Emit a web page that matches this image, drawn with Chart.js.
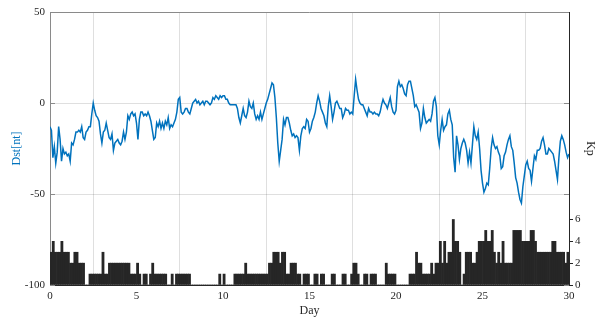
<!DOCTYPE html>
<html>
<head>
<meta charset="utf-8">
<script src="https://cdn.jsdelivr.net/npm/chart.js@4.4.0/dist/chart.umd.min.js"></script>
<style>
  html, body { margin: 0; padding: 0; background: #ffffff; }
  #wrap { width: 603px; height: 320px; }
</style>
</head>
<body>
<div id="wrap"><canvas id="chart" width="603" height="320"></canvas></div>
<script>
// Dst index [nT], one sample every 2 hours over 30 days
const DST_STEP_HOURS = 2;
const dst = [
  -13, -15, -30, -24, -33, -27, -13, -20, -32, -25,
  -28, -27, -29, -28, -32, -22, -23, -20, -16, -16,
  -15, -16, -13, -19, -20, -16, -15, -13, -13, -6,
  0, -4, -7, -8, -10, -17, -22, -16, -15, -11,
  -15, -19, -20, -17, -26, -22, -21, -20, -22, -23,
  -21, -16, -20, -16, -7, -9, -6, -5, -7, -6,
  -11, -20, -9, -5, -5, -7, -6, -7, -5, -7,
  -10, -15, -20, -19, -11, -13, -10, -14, -11, -14,
  -10, -12, -8, -14, -12, -13, -11, -9, -5, 2,
  3, -5, -6, -5, -3, -3, -5, -6, -3, 0,
  1, 2, 0, 1, -1, 0, 1, -1, 1, 1,
  0, -1, 0, 3, 2, 4, 3, 2, 4, 3,
  4, 4, 2, 2, 0, -1, -1, -1, -1, -1,
  -3, -8, -11, -7, -3, -7, -8, -5, 1, -2,
  -3, 0, -6, -9, -7, -9, -5, -9, -6, -3,
  0, 2, 5, 8, 11, 10, 3, -8, -22, -32,
  -26, -20, -9, -12, -8, -8, -11, -15, -18, -17,
  -19, -18, -19, -26, -18, -14, -13, -14, -9, -10,
  -16, -14, -10, -8, -5, 0, 4, 1, -3, -5,
  -7, -11, -13, -2, 4, -2, -9, -5, 0, 1,
  -1, -3, -3, -8, -6, -3, -4, -4, -6, -5,
  -6, 4, 13, 7, 2, 0, -1, -1, -3, -5,
  -7, -3, -5, -5, -6, -5, -6, -6, -7, -5,
  -1, 2, 0, -1, -3, 0, 3, -2, -5, -6,
  -4, 9, 12, 9, 10, 8, 5, 4, 10, 12,
  12, 8, 4, -2, -1, -3, -5, -14, -11, -3,
  -8, -11, -10, -9, -10, -6, 1, 3, -2, -18,
  -23, -15, -9, -15, -13, -12, -6, -4, -9, -12,
  -30, -38, -18, -23, -31, -25, -22, -20, -22, -26,
  -33, -27, -33, -23, -13, -18, -20, -16, -25, -37,
  -44, -49, -47, -44, -45, -36, -25, -19, -23, -25,
  -24, -27, -29, -36, -35, -29, -27, -23, -20, -18,
  -24, -26, -33, -41, -44, -49, -53, -55, -46, -40,
  -34, -32, -36, -37, -43, -36, -29, -31, -26, -26,
  -25, -21, -19, -23, -28, -28, -25, -26, -27, -28,
  -32, -37, -42, -30, -21, -18, -20, -23, -27, -30,
  -28
];

// Kp index, one value per 3-hour interval (8 per day)
const KP_STEP_HOURS = 3;
const kp = [
  3, 4, 3, 3, 3, 4, 3, 3, 3, 2, 2, 3, 3, 2, 2, 2,
  0, 0, 1, 1, 1, 1, 1, 1, 3, 1, 1, 2, 2, 2, 2, 2,
  2, 2, 2, 2, 2, 1, 1, 1, 2, 1, 0, 1, 1, 0, 1, 2,
  1, 1, 1, 1, 1, 1, 0, 0, 1, 0, 1, 1, 1, 1, 1, 1,
  1, 0, 0, 0, 0, 0, 0, 0, 0, 0, 0, 0, 0, 0, 1, 0,
  1, 0, 0, 0, 0, 1, 1, 1, 1, 1, 2, 1, 1, 1, 1, 1,
  1, 1, 1, 1, 1, 2, 2, 3, 3, 3, 2, 3, 3, 1, 1, 2,
  2, 2, 1, 1, 0, 1, 1, 1, 0, 0, 1, 1, 0, 1, 1, 0,
  0, 0, 1, 1, 0, 0, 0, 1, 1, 0, 0, 1, 2, 2, 1, 0,
  0, 1, 1, 0, 1, 1, 1, 0, 0, 0, 0, 2, 1, 1, 1, 1,
  0, 0, 0, 0, 0, 0, 1, 1, 1, 3, 2, 2, 1, 1, 1, 1,
  2, 1, 2, 2, 4, 2, 4, 2, 3, 3, 6, 4, 4, 3, 0, 1,
  3, 3, 3, 2, 2, 3, 4, 4, 4, 5, 4, 4, 5, 3, 2, 3,
  2, 4, 2, 2, 2, 2, 5, 5, 5, 5, 4, 4, 4, 4, 5, 5,
  4, 3, 3, 3, 3, 3, 3, 3, 4, 4, 3, 3, 3, 3, 2, 3
];

const dayTicks = [0, 5, 10, 15, 20, 25, 30];
const dstTicks = [-100, -50, 0, 50];
const kpTicks = [0, 2, 4, 6];

const dstPoints = dst.map((v, i) => ({ x: i * DST_STEP_HOURS / 24, y: v }));
const kpPoints = kp.map((v, i) => ({ x: (i + 0.5) * KP_STEP_HOURS / 24, y: v }));

const serif = 'Liberation Serif, "Times New Roman", serif';
const gridColor = 'rgba(38,38,38,0.15)';
const leftAxisColor = '#8a8a8a';
const darkColor = '#262626';

// box edge along the top and short inward tick marks for the Dst ruler
const frame = {
  id: 'frame',
  afterDatasetsDraw(chart) {
    const { ctx, chartArea: a, scales } = chart;
    ctx.save();
    ctx.lineWidth = 1;
    ctx.strokeStyle = leftAxisColor;
    ctx.beginPath();
    ctx.moveTo(a.left, Math.round(a.top) + 0.5);
    ctx.lineTo(a.right, Math.round(a.top) + 0.5);
    dstTicks.forEach(v => {
      const y = Math.round(scales.y.getPixelForValue(v)) + 0.5;
      ctx.moveTo(a.left, y); ctx.lineTo(a.left + 5, y);
      ctx.moveTo(a.right - 5, y); ctx.lineTo(a.right, y);
    });
    ctx.stroke();
    ctx.restore();
  }
};

new Chart(document.getElementById('chart'), {
  type: 'line',
  data: {
    datasets: [
      {
        label: 'Dst',
        data: dstPoints,
        yAxisID: 'y',
        borderColor: '#0072BD',
        borderWidth: 1.5,
        pointRadius: 0,
        tension: 0,
        fill: false,
        order: 0
      },
      {
        type: 'bar',
        label: 'Kp',
        data: kpPoints,
        yAxisID: 'y2',
        backgroundColor: darkColor,
        borderWidth: 0,
        barPercentage: 1,
        categoryPercentage: 1,
        order: 1
      }
    ]
  },
  options: {
    responsive: false,
    animation: false,
    devicePixelRatio: 1,
    layout: { padding: { top: 12, left: 0, right: 0, bottom: 0 } },
    plugins: { legend: { display: false }, tooltip: { enabled: false } },
    scales: {
      x: {
        type: 'linear',
        min: 0,
        max: 30,
        offset: false,
        afterBuildTicks: s => { s.ticks = dayTicks.map(v => ({ value: v })); },
        afterFit: s => { s.height = 35; },
        ticks: { font: { family: serif, size: 11 }, color: darkColor, padding: 5, maxRotation: 0 },
        grid: { color: gridColor, drawTicks: false },
        border: { display: true, color: darkColor },
        title: { display: true, text: 'Day', color: darkColor, font: { family: serif, size: 12 }, padding: { top: 0, bottom: 2 } }
      },
      y: {
        position: 'left',
        min: -100,
        max: 50,
        afterBuildTicks: s => { s.ticks = dstTicks.map(v => ({ value: v })); },
        afterFit: s => { s.width = 50; },
        ticks: { font: { family: serif, size: 11 }, color: darkColor, padding: 5 },
        grid: { color: gridColor, drawTicks: false },
        border: { display: true, color: leftAxisColor },
        title: { display: true, text: 'Dst[nt]', color: '#0072BD', font: { family: serif, size: 12 }, padding: { top: 10, bottom: 0 } }
      },
      y2: {
        position: 'right',
        min: 0,
        max: 25,
        afterBuildTicks: s => { s.ticks = kpTicks.map(v => ({ value: v })); },
        afterFit: s => { s.width = 34; },
        ticks: { font: { family: serif, size: 11 }, color: darkColor, padding: 2 },
        grid: { display: true, drawOnChartArea: false, drawTicks: true, tickLength: 4, color: darkColor },
        border: { display: true, color: darkColor },
        title: { display: true, text: 'Kp', color: darkColor, font: { family: serif, size: 12 }, padding: { top: 6, bottom: 0 } }
      }
    }
  },
  plugins: [frame]
});
</script>
</body>
</html>
